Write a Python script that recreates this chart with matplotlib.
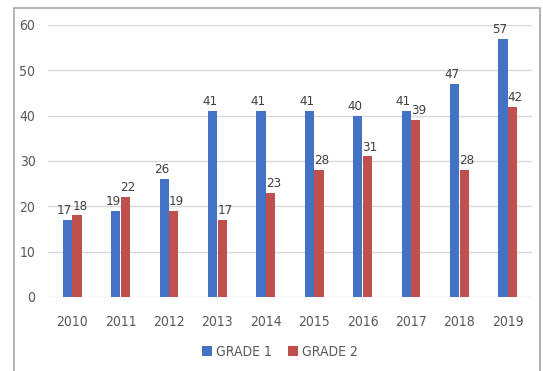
import matplotlib
matplotlib.use("Agg")
import matplotlib.pyplot as plt
from matplotlib.patches import Rectangle
import numpy as np

years = ["2010", "2011", "2012", "2013", "2014", "2015", "2016", "2017", "2018", "2019"]
grade1 = [17, 19, 26, 41, 41, 41, 40, 41, 47, 57]
grade2 = [18, 22, 19, 17, 23, 28, 31, 39, 28, 42]
series_names = ["GRADE 1", "GRADE 2"]

plt.rcParams["font.family"] = ["DejaVu Sans"]
plt.rcParams["font.stretch"] = "condensed"

blue = "#4472C4"
red = "#C0504D"
text_col = "#595959"

fig = plt.figure(figsize=(5.43, 3.71), dpi=100)
fig.patch.set_facecolor("white")

# outer frame
fig.add_artist(Rectangle((14 / 543, -0.01), (540 - 14) / 543, 1 - 8 / 371 + 0.01,
                         transform=fig.transFigure, fill=False,
                         edgecolor="#A6A6A6", linewidth=1.2))

ax = fig.add_axes([48 / 543, 1 - 297 / 371, (532 - 48) / 543, (297 - 25) / 371])
x = np.arange(len(years))
w = 0.19
b1 = ax.bar(x - w / 2 - 0.005, grade1, w, color=blue, label=series_names[0], zorder=3)
b2 = ax.bar(x + w / 2 + 0.005, grade2, w, color=red, label=series_names[1], zorder=3)

for bars, vals, dx in ((b1, grade1, -2), (b2, grade2, 2)):
    for rect, v in zip(bars, vals):
        ax.annotate(str(v), (rect.get_x() + rect.get_width() / 2, v),
                    xytext=(dx, 2), textcoords="offset points",
                    ha="center", va="bottom", fontsize=9.5, color="#404040")

ax.set_xlim(-0.5, len(years) - 0.5)
ax.set_ylim(0, 60)
ax.set_yticks(range(0, 61, 10))
ax.set_xticks(x)
ax.set_xticklabels(years)
ax.grid(axis="y", color="#D9D9D9", linewidth=1, zorder=0)
for s in ax.spines.values():
    s.set_visible(False)
ax.tick_params(axis="both", length=0, colors=text_col, labelsize=10)
ax.tick_params(axis="y", pad=9)
ax.tick_params(axis="x", pad=13)

leg = fig.legend(handles=[b1, b2], labels=series_names, loc="center",
                 bbox_to_anchor=(280 / 543, 1 - 352 / 371), ncol=2, frameon=False,
                 fontsize=10, handlelength=0.7, handleheight=0.7, handletextpad=0.3,
                 columnspacing=1.2)
for t in leg.get_texts():
    t.set_color(text_col)

fig.savefig("out.png", dpi=100)
